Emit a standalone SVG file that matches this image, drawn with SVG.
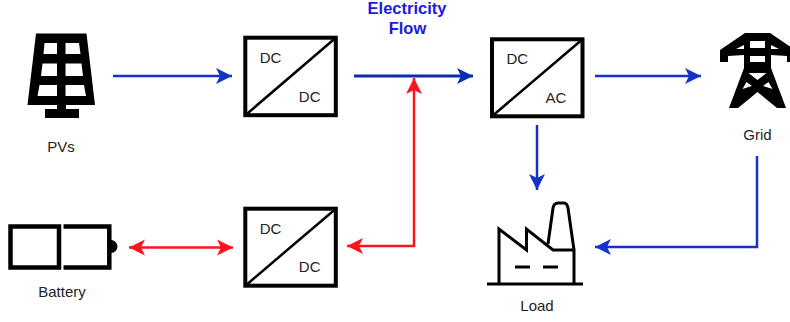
<svg xmlns="http://www.w3.org/2000/svg" width="790" height="322" viewBox="0 0 790 322">
<defs>
<marker id="ab" markerUnits="userSpaceOnUse" markerWidth="18" markerHeight="18" refX="16" refY="9" orient="auto-start-reverse"><path d="M0 1L16 9L0 17L4 9Z" fill="#1432c8"/></marker>
<marker id="an" markerUnits="userSpaceOnUse" markerWidth="18" markerHeight="18" refX="16" refY="9" orient="auto-start-reverse"><path d="M0 1L16 9L0 17L4 9Z" fill="#0a2db4"/></marker>
<marker id="ar" markerUnits="userSpaceOnUse" markerWidth="18" markerHeight="18" refX="16" refY="9" orient="auto-start-reverse"><path d="M0 1L16 9L0 17L4 9Z" fill="#fa141e"/></marker>
</defs>
<style>
text{font-family:"Liberation Sans",Arial,sans-serif;font-size:15px;fill:#222;text-anchor:middle}
.lb{fill:none;stroke:#1432c8;stroke-width:2.500;marker-end:url(#ab)}
.lr{fill:none;stroke:#fa141e;stroke-width:2.500;marker-end:url(#ar)}
.box{fill:#fff;stroke:#000;stroke-width:4}
.d{stroke:#000;stroke-width:2.500;fill:none}
.k{fill:none;stroke:#000}
.t{fill:#1a1ae0;font-weight:bold;font-size:16.500px}
</style>
<g id="connectors">
<path class="lb" d="M113 76H232"/>
<path class="lb" style="stroke:#0a2db4;stroke-width:3;marker-end:url(#an)" d="M354 76H473"/>
<path class="lb" d="M595 76H701"/>
<path class="lb" d="M537 125V190"/>
<path class="lb" d="M757 156V247H595"/>
<path class="lr" d="M414 247V78"/>
<path class="lr" d="M414 246H347"/>
<path class="lr" style="marker-start:url(#ar)" d="M129 247.500H233"/>
</g>
<g id="pvs">
<path d="M36 33.500H86.500L95 105H27.500Z" fill="#000"/>
<path d="M44.500 43H57V54H43.500ZM65.500 43H79L80.500 54H65.500ZM42.500 63.500H57V76H41ZM65.500 63.500H81.500L83 76H65.500ZM39.500 85H57V96H37.500ZM65.500 85H84L86 96H65.500Z" fill="#fff"/>
<path d="M57 105H66V109H79V118H45V109H57Z" fill="#000"/>
<text x="61" y="152">PVs</text>
</g>
<g id="dc-dc-top">
<rect class="box" x="245.300" y="37.700" width="90.500" height="77.500"/>
<path class="d" d="M245.300 115.200L335.800 37.700"/>
<text x="270.500" y="63">DC</text><text x="309.700" y="102">DC</text>
</g>
<g id="dc-ac">
<rect class="box" x="492" y="39.300" width="90.500" height="77"/>
<path class="d" d="M492 116.300L582.500 39.300"/>
<text x="517.300" y="64">DC</text><text x="556" y="103">AC</text>
</g>
<g id="grid">
<path d="M745 33H770L795 50V62H787V56L771 55V68L786 108H777L757.500 92L738 108H729L744 68V55L728 56V62H720V50Z" fill="#000"/>
<path d="M750 41H765V48H750ZM750 56H765V62H750ZM748.500 73H766.500L757.500 80ZM742.500 89L746.500 82L752 86ZM772.500 89L768.500 82L763 86ZM744 45V49H736ZM771 45V49H779Z" fill="#fff"/>
<text x="757.500" y="140">Grid</text>
</g>
<g id="battery">
<path class="k" stroke-width="4.500" d="M10.500 226.500H59V267.500H10.500ZM63.500 226.500H109.300V267.500H63.500"/>
<path d="M111 240A6.500 6.500 0 0 1 111 253Z" fill="#000"/>
<text x="62" y="297">Battery</text>
</g>
<g id="dc-dc-bottom">
<rect class="box" x="245.300" y="208.700" width="90.500" height="77"/>
<path class="d" d="M245.300 285.700L335.800 208.700"/>
<text x="270.500" y="234">DC</text><text x="309.700" y="272">DC</text>
</g>
<g id="load">
<path class="k" stroke-width="3" d="M487 284H583M499 284V229L526.500 250V229L553 250H574V284M548 244L553 208Q554 203 558 203H564Q567 203 568 208L574 250"/>
<path class="k" stroke-width="3" d="M515 267H530M543 267H558"/>
<text x="537" y="311">Load</text>
</g>
<g id="title">
<text class="t" x="407" y="14">Electricity</text>
<text class="t" x="407.500" y="34">Flow</text>
</g>
</svg>
